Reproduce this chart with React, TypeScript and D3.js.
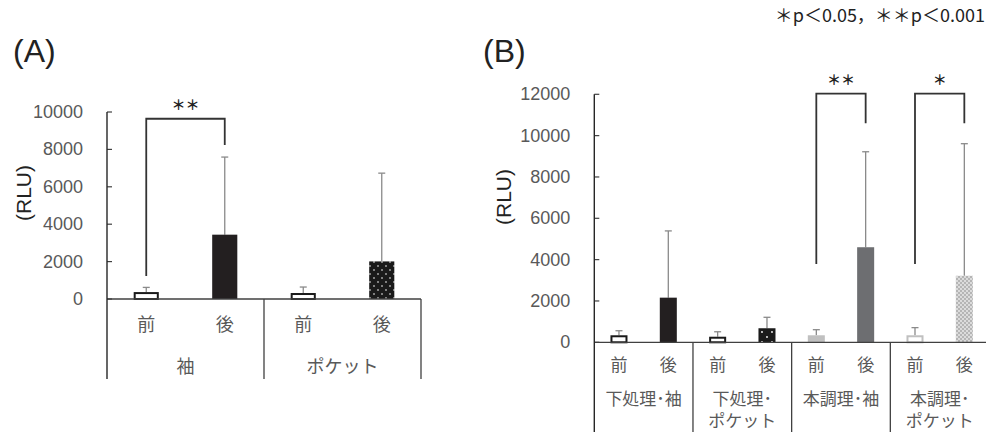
import React from "react";
import * as d3 from "d3";

// ---- Data ----
const timeLabels = ["前", "後"];
const groupsA = ["袖", "ポケット"];
const meansA = [370, 3440, 320, 2010];
const sdA = [250, 4150, 320, 4720];
const yTicksA = [0, 2000, 4000, 6000, 8000, 10000];

const groupsB = [["下処理･袖"], ["下処理･", "ポケット"], ["本調理･袖"], ["本調理･", "ポケット"]];
const meansB = [340, 2160, 270, 680, 340, 4600, 340, 3220];
const sdB = [220, 3230, 240, 530, 270, 4620, 370, 6390];
const yTicksB = [0, 2000, 4000, 6000, 8000, 10000, 12000];

// significance brackets: [barIndexLeft, barIndexRight, label, topValue, leftBottomValue, rightBottomValue]
const sigA = [[0, 1, "＊＊", 9640, 1230, 8240]];
const sigB = [
  [4, 5, "＊＊", 12030, 3790, 10600],
  [6, 7, "＊", 12030, 3790, 10600],
];
const noteText = "＊p＜0.05，＊＊p＜0.001";

// styles per bar
const styleA = ["outline", "solid", "outline", "dotsA"];
const styleB = ["outline", "solid", "outline", "dotsB", "light", "dark", "outlineLight", "grayPat"];

const TXT = "#595959";
const CJK = "'Noto Sans CJK JP', sans-serif";
const LAT = "'Liberation Sans', Arial, sans-serif";

function Bar({ x, w, y0, y1, kind }: any) {
  const h = y0 - y1;
  if (kind === "outline" || kind === "outlineLight") {
    const c = kind === "outline" ? "#1a1a1a" : "#c0c0c0";
    return <rect x={x + 1} y={y1 + 1} width={w - 2} height={Math.max(h - 1, 0)} fill="#fff" stroke={c} strokeWidth={2} />;
  }
  const fills: any = {
    solid: "#231f20",
    light: "#c0c0c0",
    dark: "#6d6e71",
    dotsA: "url(#dotsA)",
    dotsB: "url(#dotsB)",
    grayPat: "url(#grayPat)",
  };
  return <rect x={x} y={y1} width={w} height={h} fill={fills[kind]} />;
}

function Panel({ means, sds, styles, groups, yTicks, yMax, x0, x1, yBase, yTop, sig, fontCat, catY, grpY, grpLine, axisTop, axisBottom, labelX, labelY }: any) {
  const n = means.length;
  const step = (x1 - x0) / n;
  const x = d3
    .scaleBand<number>()
    .domain(d3.range(n))
    .range([x0, x1])
    .paddingInner(styles.length === 4 ? 0.68 : 0.655)
    .paddingOuter(styles.length === 4 ? 0.34 : 0.3275);
  const y = d3.scaleLinear().domain([0, yMax]).range([yBase, yTop]);
  const bw = x.bandwidth();
  const cx = (i: number) => (x(i) as number) + bw / 2;
  const groupW = step * 2;
  return (
    <g>
      {yTicks.map((t: number) => (
        <g key={t}>
          <line x1={x0} x2={x0 + 5} y1={y(t)} y2={y(t)} stroke="#404040" strokeWidth={1.2} />
          <text x={x0 - 24} y={y(t) + 6} textAnchor="end" fontFamily={LAT} fontSize={18} fill={TXT}>
            {t}
          </text>
        </g>
      ))}
      {means.map((m: number, i: number) => (
        <g key={i}>
          <line x1={cx(i)} x2={cx(i)} y1={y(m)} y2={y(m + sds[i])} stroke="#8a8a8a" strokeWidth={1.3} />
          <line x1={cx(i) - 3.5} x2={cx(i) + 3.5} y1={y(m + sds[i])} y2={y(m + sds[i])} stroke="#8a8a8a" strokeWidth={1.3} />
          <Bar x={x(i)} w={bw} y0={y(0)} y1={y(m)} kind={styles[i]} />
        </g>
      ))}
      <line x1={x0} x2={x1} y1={yBase} y2={yBase} stroke="#404040" strokeWidth={1.3} />
      <line x1={x0} x2={x0} y1={axisTop} y2={axisBottom} stroke="#262626" strokeWidth={1.4} />
      {groups.map((g: any, gi: number) => (
        <line key={gi} x1={x0 + groupW * (gi + 1)} x2={x0 + groupW * (gi + 1)} y1={yBase} y2={axisBottom} stroke="#404040" strokeWidth={1.3} />
      ))}
      {means.map((m: number, i: number) => (
        <text key={i} x={cx(i)} y={catY} textAnchor="middle" fontFamily={CJK} fontSize={fontCat} fill={TXT}>
          {timeLabels[i % 2]}
        </text>
      ))}
      {groups.map((g: any, gi: number) => {
        const lines = Array.isArray(g) ? g : [g];
        return lines.map((ln: string, li: number) => (
          <text key={gi + "-" + li} x={x0 + groupW * (gi + 0.5)} y={grpY + li * grpLine} textAnchor="middle" fontFamily={CJK} fontSize={fontCat} fill={TXT}>
            {ln}
          </text>
        ));
      })}
      {sig.map((s: any, si: number) => {
        const [a, b, lab, top, lb, rb] = s;
        return (
          <g key={si}>
            <path d={`M${cx(a)},${y(lb)}V${y(top)}H${cx(b)}V${y(rb)}`} fill="none" stroke="#333" strokeWidth={1.8} />
            <text x={(cx(a) + cx(b)) / 2} y={y(top) - 9} textAnchor="middle" fontFamily={CJK} fontWeight="bold" fontSize={14} fill="#222">
              {lab}
            </text>
          </g>
        );
      })}
      <text transform={`translate(${labelX},${labelY}) rotate(-90)`} textAnchor="middle" fontFamily={LAT} fontSize={21} fill="#222">
        (RLU)
      </text>
    </g>
  );
}

export default function App() {
  return (
    <svg width={986} height={432} style={{ position: "absolute", left: 0, top: 0, background: "#fff" }}>
      <defs>
        <pattern id="dotsA" width={8} height={8} patternUnits="userSpaceOnUse">
          <rect width={8} height={8} fill="#1a1a1a" />
          <circle cx={2} cy={2} r={0.8} fill="#fff" />
          <circle cx={6} cy={6} r={0.8} fill="#fff" />
        </pattern>
        <pattern id="dotsB" width={10} height={10} patternUnits="userSpaceOnUse">
          <rect width={10} height={10} fill="#1a1a1a" />
          <circle cx={2} cy={2} r={0.9} fill="#fff" />
          <circle cx={7} cy={7} r={0.9} fill="#fff" />
        </pattern>
        <pattern id="grayPat" width={4} height={4} patternUnits="userSpaceOnUse">
          <rect width={4} height={4} fill="#b5b5b5" />
          <circle cx={1} cy={1} r={0.9} fill="#eee" />
          <circle cx={3} cy={3} r={0.9} fill="#eee" />
        </pattern>
      </defs>
      <rect width={986} height={432} fill="#fff" />
      <text x={13} y={62} fontFamily={LAT} fontSize={32} fill="#222">(A)</text>
      <text x={483} y={62} fontFamily={LAT} fontSize={32} fill="#222">(B)</text>
      <text x={985} y={22} textAnchor="end" fontFamily={CJK} fontSize={18} fill="#222">{noteText}</text>
      <Panel
        means={meansA}
        sds={sdA}
        styles={styleA}
        groups={groupsA}
        yTicks={yTicksA}
        yMax={10000}
        x0={107}
        x1={421}
        yBase={299}
        yTop={112}
        sig={sigA}
        fontCat={18}
        catY={331}
        grpY={373}
        grpLine={0}
        axisTop={112}
        axisBottom={379}
        labelX={31}
        labelY={193}
      />
      <Panel
        means={meansB}
        sds={sdB}
        styles={styleB}
        groups={groupsB}
        yTicks={yTicksB}
        yMax={12000}
        x0={594.3}
        x1={989}
        yBase={342.3}
        yTop={94.3}
        sig={sigB}
        fontCat={17}
        catY={371}
        grpY={405}
        grpLine={22}
        axisTop={94.3}
        axisBottom={432}
        labelX={511}
        labelY={197}
      />
    </svg>
  );
}
